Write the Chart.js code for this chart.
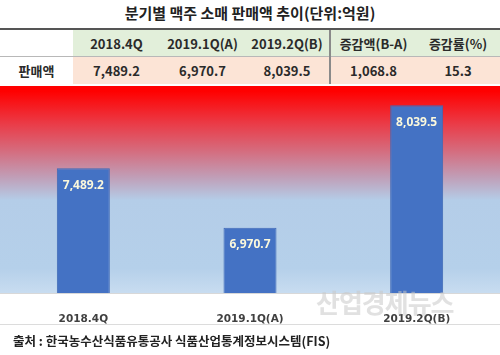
<!DOCTYPE html>
<html><head><meta charset="utf-8">
<script src="https://cdn.jsdelivr.net/npm/chart.js@4"></script>
<style>
html,body{margin:0;padding:0;background:#fff;}
body{width:500px;height:355px;position:relative;overflow:hidden;font-family:"Noto Sans CJK KR","Noto Sans",sans-serif;}
#title{position:absolute;left:0;top:2px;width:500px;text-align:center;font-weight:bold;font-size:15px;color:#222;line-height:22px;}
#topline{position:absolute;left:0;top:28px;width:500px;height:2px;background:#555;}
table{position:absolute;left:0;top:30px;width:500px;border-collapse:collapse;font-weight:bold;font-size:13px;color:#2a2a2a;table-layout:fixed;}
td{padding:0;text-align:center;white-space:nowrap;}
tr.h td{height:26px;background:#e2efda;border-bottom:1px solid #b8b8b8;}
tr.v td{height:27px;background:#fce4d6;}
tr td.first{background:#fff;}
td.sep{border-left:2px solid #8a8a8a;}
#redline{position:absolute;left:0;top:86px;width:500px;height:3px;background:#ff0000;}
#wrap{position:absolute;left:0;top:87px;width:500px;height:238px;}
#sepline{position:absolute;left:0;top:324px;width:500px;height:1px;background:#dcdcdc;}
#foot{position:absolute;left:13px;top:331px;font-weight:bold;font-size:12.5px;color:#222;line-height:20px;}
#wm{position:absolute;left:316px;top:283px;font-size:26px;font-weight:bold;color:rgba(200,200,200,0.55);letter-spacing:-1px;}
</style></head>
<body>
<div id="title">분기별 맥주 소매 판매액 추이(단위:억원)</div>
<div id="topline"></div>
<table>
<colgroup><col style="width:73px"><col style="width:87px"><col style="width:85px"><col style="width:85px"><col style="width:86px"><col style="width:84px"></colgroup>
<tr class="h"><td class="first"></td><td>2018.4Q</td><td>2019.1Q(A)</td><td>2019.2Q(B)</td><td class="sep">증감액(B-A)</td><td>증감률(%)</td></tr>
<tr class="v"><td class="first">판매액</td><td>7,489.2</td><td>6,970.7</td><td>8,039.5</td><td class="sep">1,068.8</td><td>15.3</td></tr>
</table>
<div id="wrap"><canvas id="c"></canvas></div>
<div id="redline"></div>
<div id="sepline"></div>
<div id="wm">산업경제뉴스</div>
<div id="foot">출처 : 한국농수산식품유통공사 식품산업통계정보시스템(FIS)</div>
<script>
const categories = ["2018.4Q", "2019.1Q(A)", "2019.2Q(B)"];
const salesValues = [7489.2, 6970.7, 8039.5];
const yMin = 6400;
const yMax = 8200;

const bgPlugin = {
  id: 'bg',
  beforeDraw(chart) {
    const {ctx, chartArea: a} = chart;
    const g = ctx.createLinearGradient(0, a.top, 0, a.bottom);
    g.addColorStop(0, '#ff0000');
    g.addColorStop(0.02, '#ff0000');
    g.addColorStop(0.18, '#ea3c48');
    g.addColorStop(0.31, '#d56c7e');
    g.addColorStop(0.44, '#c09fb8');
    g.addColorStop(0.55, '#b4cde8');
    g.addColorStop(0.88, '#b5d0ea');
    g.addColorStop(1, '#c8dcf0');
    ctx.save();
    ctx.fillStyle = g;
    ctx.fillRect(a.left, a.top, a.right - a.left, a.bottom - a.top);
    ctx.fillStyle = '#d8d8d8';
    ctx.fillRect(a.left, a.bottom, a.right - a.left, 1);
    ctx.restore();
  }
};
const labelPlugin = {
  id: 'lbl',
  afterDatasetsDraw(chart) {
    const {ctx} = chart;
    const meta = chart.getDatasetMeta(0);
    ctx.save();
    ctx.font = 'bold 12px "Noto Sans", "DejaVu Sans", sans-serif';
    ctx.fillStyle = '#fbf8dc';
    ctx.textAlign = 'center';
    ctx.textBaseline = 'middle';
    meta.data.forEach((bar, i) => {
      const v = chart.data.datasets[0].data[i];
      const s = v.toLocaleString('en-US', {minimumFractionDigits: 1, maximumFractionDigits: 1});
      ctx.fillText(s, bar.x, bar.y + 17);
    });
    ctx.restore();
  }
};

new Chart(document.getElementById('c'), {
  type: 'bar',
  data: {
    labels: categories,
    datasets: [{
      data: salesValues,
      backgroundColor: '#4472c4',
      borderColor: '#3f69b6',
      borderWidth: 1,
      categoryPercentage: 1,
      barPercentage: 0.318
    }]
  },
  options: {
    responsive: true,
    maintainAspectRatio: false,
    animation: false,
    layout: {padding: 0},
    plugins: {legend: {display: false}, tooltip: {enabled: false}},
    scales: {
      x: {
        grid: {display: false},
        border: {display: false},
        ticks: {
          padding: 12,
          color: '#404040',
          font: {family: '"DejaVu Sans", sans-serif', size: 10.5, weight: 'bold'}
        },
        afterFit(s) { s.height = 32; }
      },
      y: {
        display: false,
        min: yMin,
        max: yMax
      }
    }
  },
  plugins: [bgPlugin, labelPlugin]
});
</script>
</body></html>
